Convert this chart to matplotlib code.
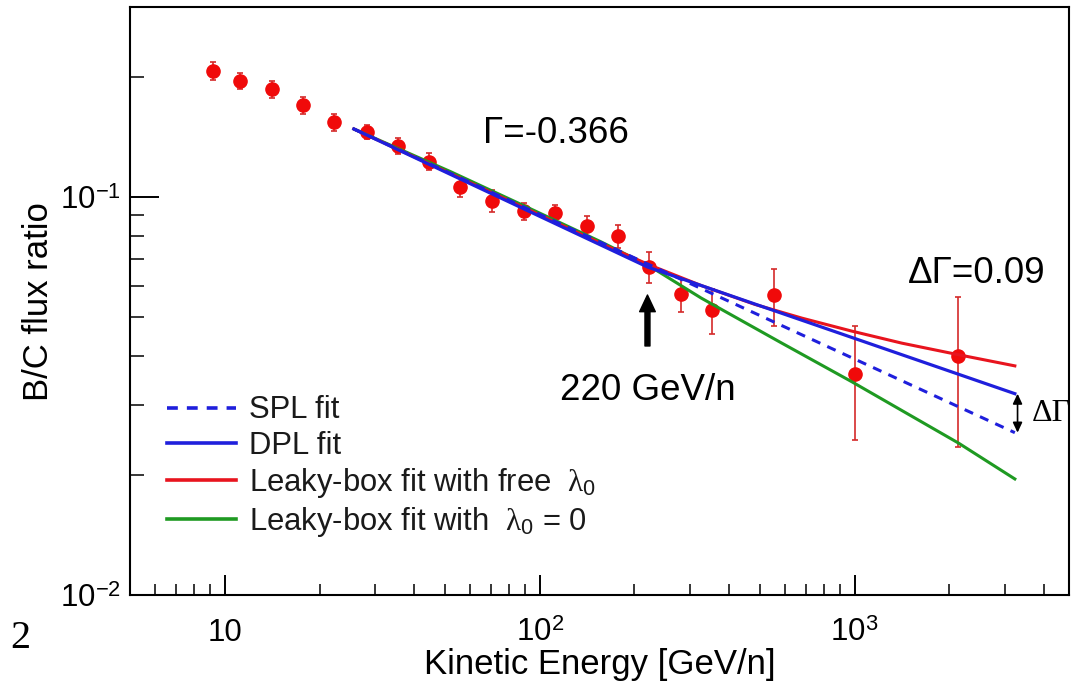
import matplotlib
matplotlib.use("Agg")
import matplotlib.pyplot as plt
from matplotlib.ticker import LogLocator, NullFormatter

plt.rcParams["font.family"] = ["Liberation Sans", "DejaVu Sans"]
plt.rcParams["mathtext.fontset"] = "custom"
plt.rcParams["mathtext.rm"] = "Liberation Sans"
plt.rcParams["mathtext.it"] = "Liberation Serif"
plt.rcParams["mathtext.bf"] = "Liberation Sans:bold"

# B/C flux ratio measurements (kinetic energy per nucleon in GeV/n)
energy = [9.16, 11.18, 14.1, 17.7, 22.3, 28.2, 35.6, 44.6, 56.0, 70.6,
          89.1, 112.2, 141.3, 177.3, 223, 281.8, 353.6, 557, 1000, 2139]
bc_ratio = [0.2076, 0.1963, 0.1868, 0.1705, 0.1546, 0.1462, 0.1345, 0.1228,
            0.1063, 0.0980, 0.0924, 0.0912, 0.0848, 0.0799, 0.0669, 0.0571,
            0.0521, 0.0568, 0.0360, 0.0399]
bc_err = [0.011, 0.0093, 0.0088, 0.0085, 0.0076, 0.006, 0.006, 0.006, 0.006,
          0.006, 0.0045, 0.0045, 0.0051, 0.0055, 0.0061, 0.0057, 0.0068,
          0.0093, 0.0115, 0.0163]

# Fit curves
spl_energy = [25.7, 3230]
spl_ratio = [0.1484, 0.02562]
dpl_energy = [25.7, 220, 3230]
dpl_ratio = [0.1484, 0.0668, 0.0321]
lb_free_energy = [25.7, 75.4, 156.9, 223, 326, 482.6, 680, 980, 1413, 2143, 3230]
lb_free_ratio = [0.1484, 0.1002, 0.0765, 0.0676, 0.0600, 0.0538, 0.0497,
                 0.0461, 0.0430, 0.0402, 0.0377]
lb_zero_energy = [25.7, 52.3, 87.4, 156.9, 223, 326, 587.7, 980, 2143, 3230]
lb_zero_ratio = [0.1484, 0.1158, 0.0959, 0.0772, 0.0672, 0.0558, 0.0430,
                 0.0344, 0.0241, 0.0196]

fit_labels = ["SPL fit", "DPL fit",
              r"Leaky-box fit with free  $\lambda_0$",
              r"Leaky-box fit with  $\lambda_0$ = 0"]

x_ticks = [10, 100, 1000]
x_tick_labels = ["10", r"$10^2$", r"$10^3$"]
y_ticks = [0.01, 0.1]
y_tick_labels = [r"$10^{-2}$", r"$10^{-1}$"]

break_energy = 220

BLUE = "#1f1fdc"
RED = "#e8141e"
GREEN = "#1f9a22"

fig = plt.figure(figsize=(10.73, 6.88), dpi=100)
ax = fig.add_axes([0.12116, 0.13474, 0.87512, 0.85465])
ax.set_xscale("log")
ax.set_yscale("log")
ax.set_xlim(5, 4800)
ax.set_ylim(0.01, 0.3)

ax.errorbar(energy, bc_ratio, yerr=bc_err, fmt="o", color="#f00a0a",
            ecolor="#d42a2a", markersize=9.5, elinewidth=1.2, capsize=2.5,
            capthick=1.2, zorder=2)

h_zero, = ax.plot(lb_zero_energy, lb_zero_ratio, color=GREEN, lw=2.2, zorder=3)
h_free, = ax.plot(lb_free_energy, lb_free_ratio, color=RED, lw=2.2, zorder=3)
h_spl, = ax.plot(spl_energy, spl_ratio, color=BLUE, lw=2.2,
                 linestyle=(0, (3, 2.5)), zorder=4)
h_dpl, = ax.plot(dpl_energy, dpl_ratio, color=BLUE, lw=2.3, zorder=5)

leg = ax.legend([h_spl, h_dpl, h_free, h_zero], fit_labels, loc="upper left",
                bbox_to_anchor=(0.039, 0.340), frameon=False, fontsize=22.3,
                handlelength=2.23, handletextpad=0.43, labelspacing=0.17,
                borderpad=0, borderaxespad=0)
for t in leg.get_texts():
    t.set_color("#1a1a1a")
for h in leg.get_lines():
    h.set_linewidth(2.6)

# Annotations
ax.text(66, 0.1367, "\u0393=-0.366", fontsize=26.5, ha="left", va="baseline")
ax.text(1476, 0.0608, "\u0394\u0393=0.09", fontsize=26.5, ha="left", va="baseline")
ax.text(break_energy, 0.0310, "220 GeV/n", fontsize=26.5, ha="center", va="baseline")
ax.annotate("", xy=(break_energy, 0.0568), xytext=(break_energy, 0.0423),
            arrowprops=dict(facecolor="black", edgecolor="black", width=3.6,
                            headwidth=11.3, headlength=12, shrink=0))

# Gap between the two power laws at the highest energy
ax.annotate("", xy=(spl_energy[-1] * 1.02, dpl_ratio[-1]),
            xytext=(spl_energy[-1] * 1.02, spl_ratio[-1]),
            arrowprops=dict(arrowstyle="<|-|>,head_length=0.6,head_width=0.28",
                            color="black", lw=1.2, shrinkA=0, shrinkB=0,
                            mutation_scale=10))
ax.text(3655, 0.02859, "\u0394\u0393", fontsize=23, family="Liberation Serif",
        ha="left", va="center", clip_on=False)

# Axes styling
for s in ax.spines.values():
    s.set_linewidth(1.5)
    s.set_color("black")

ax.set_xticks(x_ticks, labels=x_tick_labels, va="baseline")
ax.set_yticks(y_ticks, labels=y_tick_labels)
ax.xaxis.set_minor_locator(LogLocator(base=10, subs=range(2, 10), numticks=20))
ax.yaxis.set_minor_locator(LogLocator(base=10, subs=range(2, 10), numticks=20))
ax.xaxis.set_minor_formatter(NullFormatter())
ax.yaxis.set_minor_formatter(NullFormatter())

ax.tick_params(axis="x", which="major", direction="in", length=14.4, width=1.4,
               labelsize=22.5, pad=32.9, top=False)
ax.tick_params(axis="x", which="minor", direction="in", length=7.6, width=1.1,
               top=False)
ax.tick_params(axis="y", which="major", direction="in", length=20.9, width=1.4,
               labelsize=22.5, pad=6.5, right=False)
ax.tick_params(axis="y", which="minor", direction="in", length=10, width=1.1,
               right=False)

ax.set_xlabel("Kinetic Energy [GeV/n]", fontsize=25)
ax.set_ylabel("B/C flux ratio", fontsize=25)
ax.xaxis.set_label_coords(0.5, -0.0896)
ax.yaxis.set_label_coords(-0.08, 0.5)

fig.text(0.010, 0.058, "2", fontsize=29, family="Liberation Serif",
         ha="left", va="baseline")

fig.savefig("out.png", dpi=100)
